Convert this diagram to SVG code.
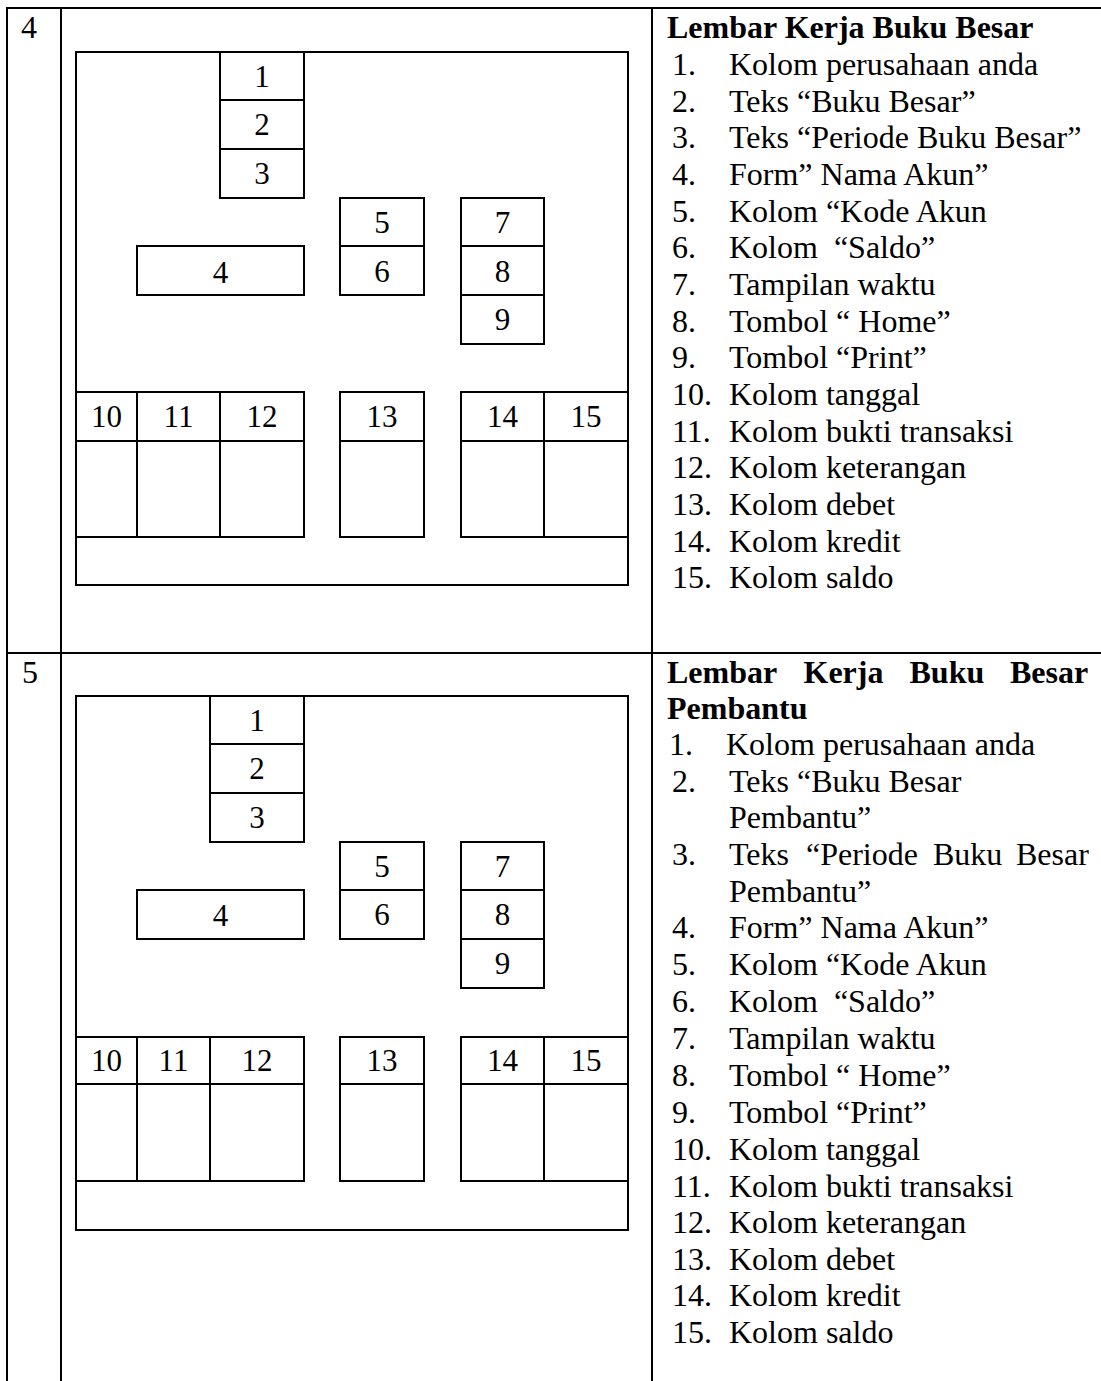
<svg xmlns="http://www.w3.org/2000/svg" width="1101" height="1381" viewBox="0 0 1101 1381">
<style>
.ln{stroke:#000;stroke-width:2;fill:none}
.bx{stroke:#000;stroke-width:2;fill:#fff}
.n{font-family:"Liberation Serif","Times New Roman",serif;font-size:31px;fill:#000;text-anchor:middle}
.t{font-family:"Liberation Serif","Times New Roman",serif;font-size:32px;fill:#000}
.b{font-weight:bold}
.pre{white-space:pre}
</style>
<rect width="1101" height="1381" fill="#fff"/>
<g id="table-grid">
<line class="ln" x1="6" y1="8" x2="1101" y2="8"/>
<line class="ln" x1="7" y1="7" x2="7" y2="1381"/>
<line class="ln" x1="61" y1="7" x2="61" y2="1381"/>
<line class="ln" x1="652" y1="7" x2="652" y2="1381"/>
<line class="ln" x1="6" y1="653" x2="1101" y2="653"/>
<text class="t" x="21" y="38">4</text>
<text class="t" x="22" y="683">5</text>
</g>

<g id="wireframe-buku-besar">
<rect class="bx" x="76" y="52" width="552" height="533"/>
<g id="r1-box-1-3">
<rect class="bx" x="220" y="52" width="84" height="146"/>
<line class="ln" x1="220" y1="100" x2="304" y2="100"/>
<line class="ln" x1="220" y1="149" x2="304" y2="149"/>
<text class="n" x="262" y="87">1</text>
<text class="n" x="262" y="135">2</text>
<text class="n" x="262" y="184">3</text>
</g>
<g id="r1-box-5-6">
<rect class="bx" x="340" y="198" width="84" height="97"/>
<line class="ln" x1="340" y1="246" x2="424" y2="246"/>
<text class="n" x="382" y="233">5</text>
<text class="n" x="382" y="282">6</text>
</g>
<g id="r1-box-7-9">
<rect class="bx" x="461" y="198" width="83" height="146"/>
<line class="ln" x1="461" y1="246" x2="544" y2="246"/>
<line class="ln" x1="461" y1="295" x2="544" y2="295"/>
<text class="n" x="502.5" y="233">7</text>
<text class="n" x="502.5" y="282">8</text>
<text class="n" x="502.5" y="330">9</text>
</g>
<g id="r1-box-4">
<rect class="bx" x="137" y="246" width="167" height="49"/>
<text class="n" x="220.5" y="283">4</text>
</g>
<g id="r1-table-10-12">
<rect class="bx" x="76" y="392" width="228" height="145"/>
<line class="ln" x1="76" y1="441" x2="304" y2="441"/>
<line class="ln" x1="137" y1="392" x2="137" y2="537"/>
<line class="ln" x1="220" y1="392" x2="220" y2="537"/>
<text class="n" x="106.5" y="427">10</text>
<text class="n" x="178.5" y="427">11</text>
<text class="n" x="262" y="427">12</text>
</g>
<g id="r1-table-13">
<rect class="bx" x="340" y="392" width="84" height="145"/>
<line class="ln" x1="340" y1="441" x2="424" y2="441"/>
<text class="n" x="382" y="427">13</text>
</g>
<g id="r1-table-14-15">
<rect class="bx" x="461" y="392" width="167" height="145"/>
<line class="ln" x1="461" y1="441" x2="628" y2="441"/>
<line class="ln" x1="544" y1="392" x2="544" y2="537"/>
<text class="n" x="502.5" y="427">14</text>
<text class="n" x="586" y="427">15</text>
</g>
</g>

<g id="desc-buku-besar">
<text class="t b" x="667" y="38">Lembar Kerja Buku Besar</text>
<text class="t" x="672" y="75">1.</text><text class="t" x="729" y="75">Kolom perusahaan anda</text>
<text class="t" x="672" y="112">2.</text><text class="t" x="729" y="112">Teks “Buku Besar”</text>
<text class="t" x="672" y="148">3.</text><text class="t" x="729" y="148">Teks “Periode Buku Besar”</text>
<text class="t" x="672" y="185">4.</text><text class="t" x="729" y="185">Form” Nama Akun”</text>
<text class="t" x="672" y="222">5.</text><text class="t" x="729" y="222">Kolom “Kode Akun</text>
<text class="t" x="672" y="258">6.</text><text class="t pre" x="729" y="258">Kolom  “Saldo”</text>
<text class="t" x="672" y="295">7.</text><text class="t" x="729" y="295">Tampilan waktu</text>
<text class="t" x="672" y="332">8.</text><text class="t" x="729" y="332">Tombol “ Home”</text>
<text class="t" x="672" y="368">9.</text><text class="t" x="729" y="368">Tombol “Print”</text>
<text class="t" x="672" y="405">10.</text><text class="t" x="729" y="405">Kolom tanggal</text>
<text class="t" x="672" y="442">11.</text><text class="t" x="729" y="442">Kolom bukti transaksi</text>
<text class="t" x="672" y="478">12.</text><text class="t" x="729" y="478">Kolom keterangan</text>
<text class="t" x="672" y="515">13.</text><text class="t" x="729" y="515">Kolom debet</text>
<text class="t" x="672" y="552">14.</text><text class="t" x="729" y="552">Kolom kredit</text>
<text class="t" x="672" y="588">15.</text><text class="t" x="729" y="588">Kolom saldo</text>
</g>

<g id="wireframe-buku-besar-pembantu">
<rect class="bx" x="76" y="696" width="552" height="534"/>
<g id="r2-box-1-3">
<rect class="bx" x="210" y="696" width="94" height="146"/>
<line class="ln" x1="210" y1="744" x2="304" y2="744"/>
<line class="ln" x1="210" y1="793" x2="304" y2="793"/>
<text class="n" x="257" y="731">1</text>
<text class="n" x="257" y="779">2</text>
<text class="n" x="257" y="828">3</text>
</g>
<g id="r2-box-5-6">
<rect class="bx" x="340" y="842" width="84" height="97"/>
<line class="ln" x1="340" y1="890" x2="424" y2="890"/>
<text class="n" x="382" y="877">5</text>
<text class="n" x="382" y="925">6</text>
</g>
<g id="r2-box-7-9">
<rect class="bx" x="461" y="842" width="83" height="146"/>
<line class="ln" x1="461" y1="890" x2="544" y2="890"/>
<line class="ln" x1="461" y1="939" x2="544" y2="939"/>
<text class="n" x="502.5" y="877">7</text>
<text class="n" x="502.5" y="925">8</text>
<text class="n" x="502.5" y="974">9</text>
</g>
<g id="r2-box-4">
<rect class="bx" x="137" y="890" width="167" height="49"/>
<text class="n" x="220.5" y="926">4</text>
</g>
<g id="r2-table-10-12">
<rect class="bx" x="76" y="1037" width="228" height="144"/>
<line class="ln" x1="76" y1="1084" x2="304" y2="1084"/>
<line class="ln" x1="137" y1="1037" x2="137" y2="1181"/>
<line class="ln" x1="210" y1="1037" x2="210" y2="1181"/>
<text class="n" x="106.5" y="1071">10</text>
<text class="n" x="173.5" y="1071">11</text>
<text class="n" x="257" y="1071">12</text>
</g>
<g id="r2-table-13">
<rect class="bx" x="340" y="1037" width="84" height="144"/>
<line class="ln" x1="340" y1="1084" x2="424" y2="1084"/>
<text class="n" x="382" y="1071">13</text>
</g>
<g id="r2-table-14-15">
<rect class="bx" x="461" y="1037" width="167" height="144"/>
<line class="ln" x1="461" y1="1084" x2="628" y2="1084"/>
<line class="ln" x1="544" y1="1037" x2="544" y2="1181"/>
<text class="n" x="502.5" y="1071">14</text>
<text class="n" x="586" y="1071">15</text>
</g>
</g>

<g id="desc-buku-besar-pembantu">
<text class="t b" y="683"><tspan x="667">Lembar</tspan> <tspan x="803.5">Kerja</tspan> <tspan x="909.5">Buku</tspan> <tspan x="1010">Besar</tspan></text>
<text class="t b" x="667" y="719">Pembantu</text>
<text class="t" x="669" y="755">1.</text><text class="t" x="726" y="755">Kolom perusahaan anda</text>
<text class="t" x="672" y="792">2.</text><text class="t" x="729" y="792">Teks “Buku Besar</text>
<text class="t" x="729" y="828">Pembantu”</text>
<text class="t" x="672" y="865">3.</text><text class="t" y="865"><tspan x="729">Teks</tspan> <tspan x="806">“Periode</tspan> <tspan x="933">Buku</tspan> <tspan x="1016">Besar</tspan></text>
<text class="t" x="729" y="902">Pembantu”</text>
<text class="t" x="672" y="938">4.</text><text class="t" x="729" y="938">Form” Nama Akun”</text>
<text class="t" x="672" y="975">5.</text><text class="t" x="729" y="975">Kolom “Kode Akun</text>
<text class="t" x="672" y="1012">6.</text><text class="t pre" x="729" y="1012">Kolom  “Saldo”</text>
<text class="t" x="672" y="1049">7.</text><text class="t" x="729" y="1049">Tampilan waktu</text>
<text class="t" x="672" y="1086">8.</text><text class="t" x="729" y="1086">Tombol “ Home”</text>
<text class="t" x="672" y="1123">9.</text><text class="t" x="729" y="1123">Tombol “Print”</text>
<text class="t" x="672" y="1160">10.</text><text class="t" x="729" y="1160">Kolom tanggal</text>
<text class="t" x="672" y="1197">11.</text><text class="t" x="729" y="1197">Kolom bukti transaksi</text>
<text class="t" x="672" y="1233">12.</text><text class="t" x="729" y="1233">Kolom keterangan</text>
<text class="t" x="672" y="1270">13.</text><text class="t" x="729" y="1270">Kolom debet</text>
<text class="t" x="672" y="1306">14.</text><text class="t" x="729" y="1306">Kolom kredit</text>
<text class="t" x="672" y="1343">15.</text><text class="t" x="729" y="1343">Kolom saldo</text>
</g>
</svg>
